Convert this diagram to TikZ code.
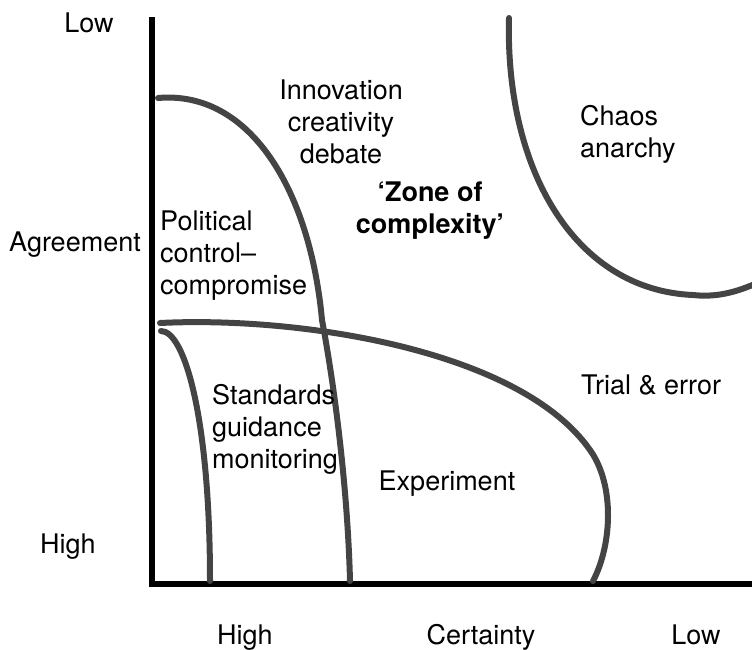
\documentclass[tikz,border=0pt]{standalone}
\usepackage{fontspec}
\setmainfont{TeX Gyre Heros}
\begin{document}
\begin{tikzpicture}[x=1pt,y=-1pt,
  axis/.style={line width=6pt,black},
  zone/.style={line width=6pt,draw=curvegray,line cap=round},
  lbl/.style={font=\fontsize{27}{32}\selectfont,inner sep=0pt},
]
\definecolor{curvegray}{HTML}{444444}
\useasboundingbox (0,0) rectangle (752,649);
% axes
\coordinate (ytop) at (152,17);
\coordinate (origin) at (152,584);
\coordinate (xend) at (752,584);
\draw[axis] (ytop) -- (origin) -- (xend);
% curves
\coordinate (a0) at (158,98);
\coordinate (a1) at (322,320);
\coordinate (a2) at (350,581);
\draw[zone] (a0) .. controls (250,90) and (310,190) .. (a1) .. controls (337,400) and (348,500) .. (a2);
\coordinate (b0) at (160,323);
\coordinate (b1) at (590,450);
\coordinate (b2) at (593,581);
\draw[zone] (b0) .. controls (300,316) and (520,350) .. (b1) .. controls (615,485) and (612,545) .. (b2);
\coordinate (c0) at (161,331);
\coordinate (c1) at (210,581);
\draw[zone] (c0) .. controls (185,331) and (210,420) .. (c1);
\coordinate (d0) at (509,18);
\coordinate (d1) at (693,295);
\coordinate (d2) at (755,284);
\draw[zone] (d0) .. controls (505,170) and (575,290) .. (d1) .. controls (720,298) and (740,290) .. (d2);
% axis labels
\node[lbl,anchor=base] (low1) at (89,32) {Low};
\node[lbl,anchor=base] (agree) at (75,251) {Agreement};
\node[lbl,anchor=base] (high1) at (68,553) {High};
\node[lbl,anchor=base] (high2) at (245,644) {High};
\node[lbl,anchor=base] (cert) at (481,644) {Certainty};
\node[lbl,anchor=base] (low2) at (696,644) {Low};
% region labels
\node[lbl,align=center] (innov) at (341,122) {Innovation\\creativity\\debate};
\node[lbl,align=left,anchor=west] (chaos) at (580,134) {Chaos\\anarchy};
\node[lbl,align=center,font=\fontsize{27}{32}\selectfont\bfseries] (zone) at (430,211) {‘Zone of\\complexity’};
\node[lbl,align=left,anchor=west] (pol) at (160,256) {Political\\control–\\compromise};
\node[lbl,align=left,anchor=west] (std) at (212,429) {Standards\\guidance\\monitoring};
\node[lbl] (exp) at (447,484) {Experiment};
\node[lbl] (trial) at (651,385) {Trial \& error};
\end{tikzpicture}
\end{document}
